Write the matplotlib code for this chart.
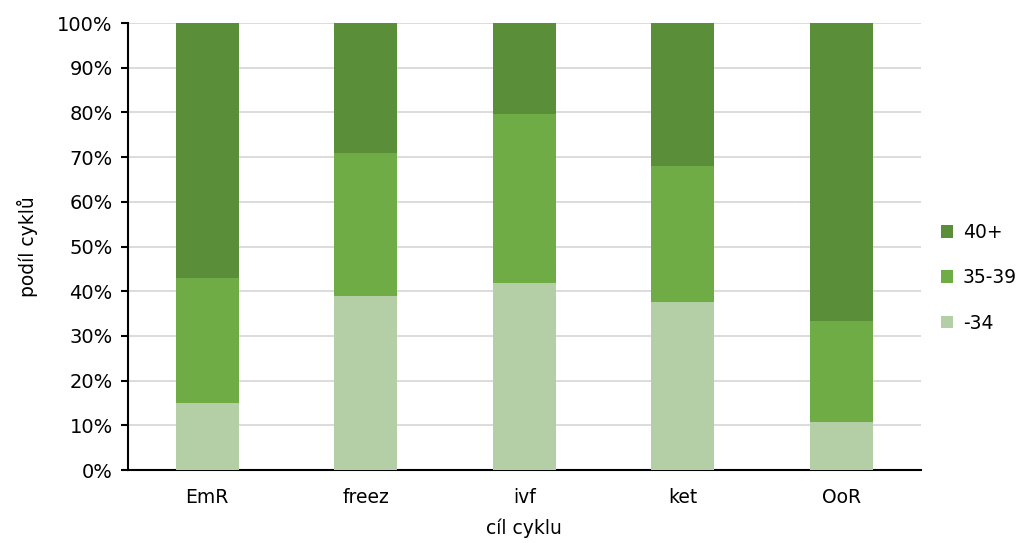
import matplotlib
matplotlib.use("Agg")
import matplotlib.pyplot as plt
import numpy as np

categories = ["EmR", "freez", "ivf", "ket", "OoR"]
s_34 = [15.0, 39.0, 41.8, 37.5, 10.8]
s_35_39 = [28.0, 32.0, 37.8, 30.5, 22.5]
s_40 = [57.0, 29.0, 20.4, 32.0, 66.7]
series_labels = ["-34", "35-39", "40+"]
colors = ["#B4CFA6", "#6FAC46", "#5A8E39"]

plt.rcParams['font.family'] = ['DejaVu Sans']
fig = plt.figure(figsize=(10.22, 5.43), dpi=100)
ax = fig.add_axes([0.1252, 0.1344, 0.7755, 0.8232])

x = np.arange(len(categories))
w = 0.4
bottom = np.zeros(len(categories))
handles = []
for vals, lab, c in zip([s_34, s_35_39, s_40], series_labels, colors):
    h = ax.bar(x, vals, w, bottom=bottom, color=c, label=lab, zorder=3)
    handles.append(h)
    bottom += np.array(vals)

ax.set_ylim(0, 100)
ax.set_xlim(-0.5, len(categories) - 0.5)
ax.set_yticks(np.arange(0, 101, 10))
ax.set_yticklabels([f"{v}%" for v in range(0, 101, 10)], fontsize=14)
ax.set_xticks(x)
ax.set_xticklabels(categories, fontsize=13.5)
ax.tick_params(axis='x', length=0, pad=13)
ax.tick_params(axis='y', length=5, width=1.5, color='black', pad=6)
ax.grid(axis='y', color='#D9D9D9', linewidth=1.3, zorder=0)
for s in ['top', 'right']:
    ax.spines[s].set_visible(False)
for s in ['left', 'bottom']:
    ax.spines[s].set_linewidth(1.5)
    ax.spines[s].set_color('black')

ax.set_ylabel("podíl cyklů", fontsize=13.5, labelpad=14)
ax.set_xlabel("cíl cyklu", fontsize=13.5, labelpad=8)

leg = ax.legend(handles[::-1], series_labels[::-1], loc='center left',
                bbox_to_anchor=(1.026, 0.43), frameon=False, fontsize=13.5,
                handlelength=0.65, handleheight=0.65, handletextpad=0.5,
                labelspacing=1.4, borderaxespad=0, borderpad=0)

fig.savefig("out.png", dpi=100)
